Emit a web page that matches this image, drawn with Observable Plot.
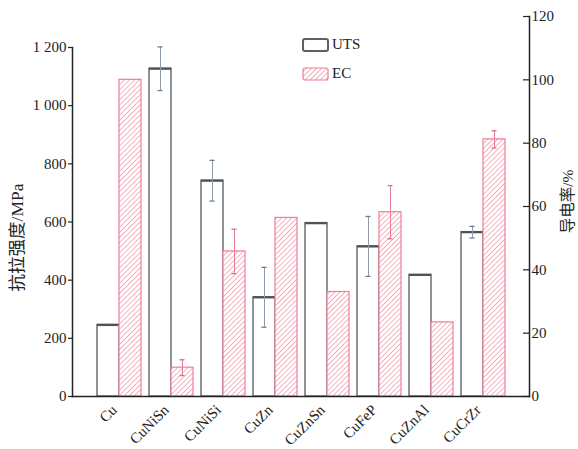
<!DOCTYPE html>
<html><head><meta charset="utf-8">
<script src="https://cdn.jsdelivr.net/npm/d3@7"></script>
<script src="https://cdn.jsdelivr.net/npm/@observablehq/plot@0.6"></script>
<style>
body{margin:0;background:#fff;}
#wrap{position:relative;width:578px;height:449px;font-family:"Liberation Serif","Noto Sans CJK SC",serif;}
.leg{position:absolute;left:302px;font-size:15px;display:flex;align-items:center;color:#222;}
.leg svg{margin-right:3px;}
</style></head><body><div id="wrap"></div>
<script>
// ---- data ----
const categories = ["Cu","CuNiSn","CuNiSi","CuZn","CuZnSn","CuFeP","CuZnAl","CuCrZr"];
const uts    = [246, 1127, 742, 341, 596, 516, 418, 565];      // MPa (left axis)
const utsErr = [null, 75, 70, 103, null, 103, null, 20];
const ec     = [100, 9.1, 45.8, 56.4, 33, 58.2, 23.4, 81.2];   // % (right axis)
const ecErr  = [null, 2.5, 7, null, null, 8.4, null, 2.7];
const leftTicks  = [0, 200, 400, 600, 800, 1000, 1200];
const rightTicks = [0, 20, 40, 60, 80, 100, 120];
const seriesNames = ["UTS", "EC"];
const leftTitle = "抗拉强度/MPa";
const rightTitle = "导电率/%";

// ---- layout ----
const W = 578, H = 449, mL = 72, mR = 49, mT = 16, mB = 53;
const K = 10.888;               // MPa per % (ratio of the two axes)
const pi = 0.154, po = 0.471;   // band paddings
const n = categories.length;
const frameW = W - mL - mR, frameH = H - mT - mB;
const step = frameW / (n - pi + 2 * po);
const bw = step * (1 - pi);
const half = bw / 2;
const leftTopInset = frameH * (1 - (leftTicks[leftTicks.length - 1] / K) / rightTicks[rightTicks.length - 1]);

const data = categories.map((c, i) => ({cat: c, uts: uts[i], utsErr: utsErr[i], ec: ec[i], ecErr: ecErr[i]}));
const uE = data.filter(d => d.utsErr != null);
const eE = data.filter(d => d.ecErr != null);
const uCaps = uE.flatMap(d => [{cat: d.cat, v: (d.uts + d.utsErr) / K}, {cat: d.cat, v: (d.uts - d.utsErr) / K}]);
const eCaps = eE.flatMap(d => [{cat: d.cat, v: d.ec + d.ecErr}, {cat: d.cat, v: d.ec - d.ecErr}]);

const fmt = v => String(v).replace(/\B(?=(\d{3})+$)/g, " ");
const font = '"Liberation Serif", "Noto Sans CJK SC", serif';
const axisCol = "#222";

const chart = Plot.plot({
  width: W, height: H,
  marginLeft: mL, marginRight: mR, marginTop: mT, marginBottom: mB,
  style: {fontFamily: font, fontSize: "15px", color: axisCol, background: "white", overflow: "visible"},
  x: {type: "band", domain: categories, paddingInner: pi, paddingOuter: po},
  y: {domain: [0, 120]},
  marks: [
    Plot.barY(data, {x: "cat", y: d => d.uts / K, insetRight: half, fill: "white", stroke: "#687074", strokeWidth: 1.5}),
    Plot.tickY(data, {x: "cat", y: d => d.uts / K, insetRight: half, stroke: "#4c5458", strokeWidth: 2.2}),
    Plot.barY(data, {x: "cat", y: "ec", insetLeft: half, fill: "url(#hatch)", stroke: "#f07c98", strokeWidth: 1.2}),
    Plot.ruleX(uE, {x: "cat", y1: d => (d.uts - d.utsErr) / K, y2: d => (d.uts + d.utsErr) / K, dx: -half / 2, stroke: "#8d9ba8", strokeWidth: 1}),
    Plot.tickY(uCaps, {x: "cat", y: "v", insetLeft: half / 2 - 2.5, insetRight: 1.5 * half - 2.5, stroke: "#6f7d88", strokeWidth: 1.3}),
    Plot.ruleX(eE, {x: "cat", y1: d => d.ec - d.ecErr, y2: d => d.ec + d.ecErr, dx: half / 2, stroke: "#ea7d98", strokeWidth: 1}),
    Plot.tickY(eCaps, {x: "cat", y: "v", insetLeft: 1.5 * half - 2.5, insetRight: half / 2 - 2.5, stroke: "#e06a88", strokeWidth: 1.3}),
    Plot.frame({anchor: "left", insetTop: leftTopInset, stroke: axisCol, strokeWidth: 1.5}),
    Plot.frame({anchor: "right", stroke: axisCol, strokeWidth: 1.5}),
    Plot.frame({anchor: "bottom", stroke: axisCol, strokeWidth: 1.5}),
    Plot.axisY({anchor: "left", ticks: leftTicks.map(v => v / K), tickFormat: d => fmt(Math.round(d * K)), tickSize: 4, tickPadding: 2, label: null, stroke: axisCol, strokeWidth: 1.2, fontSize: 15}),
    Plot.axisY({anchor: "right", ticks: rightTicks, tickSize: 0, tickPadding: 2, label: null, fontSize: 15}),
    Plot.tickY(rightTicks, {y: d => d, insetLeft: frameW - 6, stroke: axisCol, strokeWidth: 1.2}),
    Plot.axisX({tickSize: 0, tickRotate: -45, tickPadding: 11, label: null, fontSize: 15, dx: -5}),
    Plot.text([leftTitle], {frameAnchor: "left", textAnchor: "middle", rotate: -90, dx: -55, dy: 31, fontSize: 17.5, fontFamily: font}),
    Plot.text([rightTitle], {frameAnchor: "right", textAnchor: "middle", rotate: -90, dx: 39, dy: -5, fontSize: 15.5, fontFamily: font})
  ]
});

const hatchDef = (id) => `<pattern id="${id}" patternUnits="userSpaceOnUse" width="3.6" height="3.6" patternTransform="rotate(45)"><rect width="3.6" height="3.6" fill="white"/><line x1="0" y1="0" x2="0" y2="3.6" stroke="#f296ab" stroke-width="1.5"/></pattern>`;
d3.select(chart).insert("defs", ":first-child").html(hatchDef("hatch"));

const wrap = document.getElementById("wrap");
wrap.appendChild(chart);

// legend
const legRows = [
  {name: seriesNames[0], top: 36, swatch: `<rect x="1" y="1" width="25" height="12" rx="2" fill="white" stroke="#5a6266" stroke-width="2"/>`},
  {name: seriesNames[1], top: 65, swatch: `<defs>${hatchDef("hatchLeg")}</defs><rect x="1" y="1" width="25" height="12" rx="2" fill="url(#hatchLeg)" stroke="#f07c98" stroke-width="1.2"/>`}
];
legRows.forEach(r => {
  const div = document.createElement("div");
  div.className = "leg";
  div.style.top = r.top + "px";
  div.innerHTML = `<svg width="27" height="14">${r.swatch}</svg><span>${r.name}</span>`;
  wrap.appendChild(div);
});
</script>
</body></html>
